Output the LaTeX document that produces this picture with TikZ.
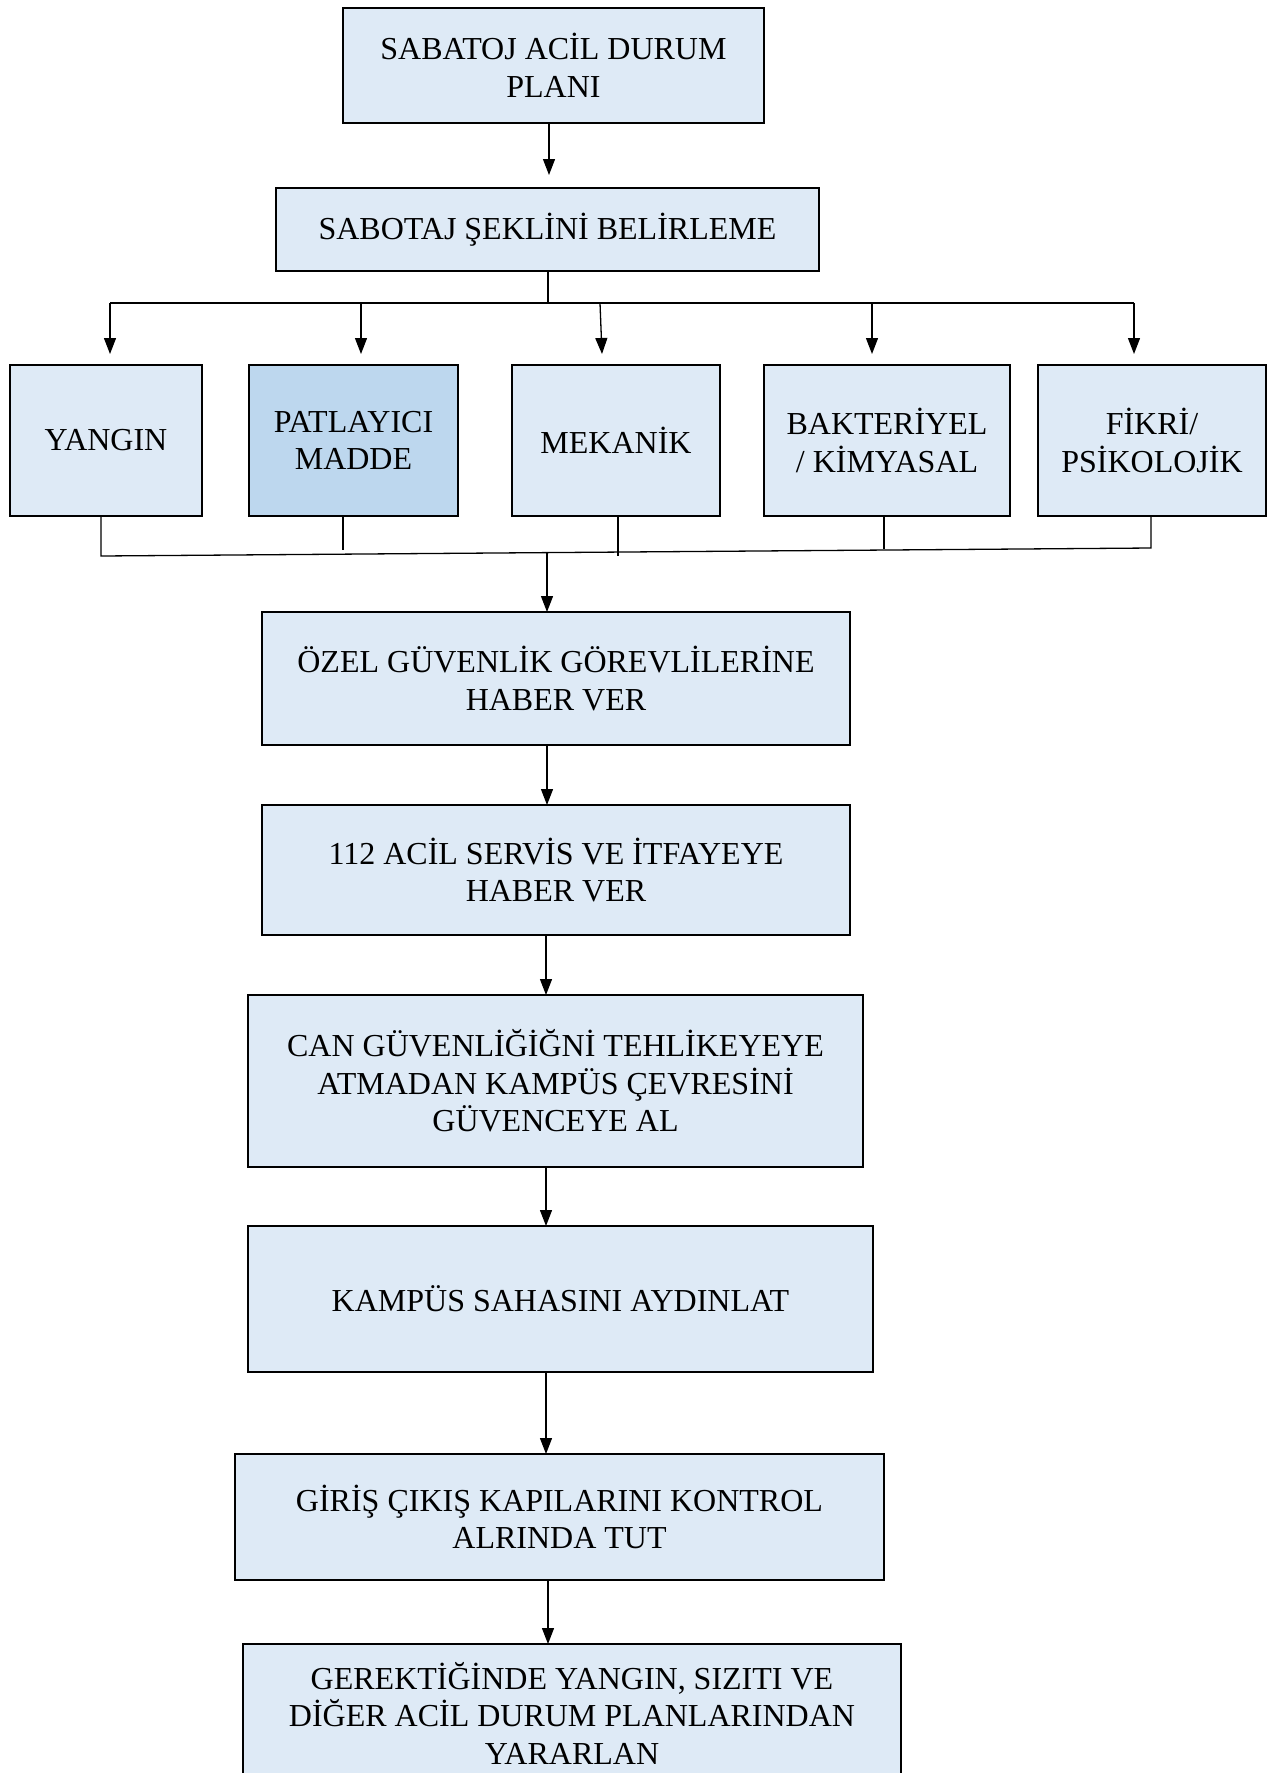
\documentclass[tikz,border=0pt]{standalone}
\usepackage{fontspec}
\setmainfont{Liberation Serif}
\usetikzlibrary{arrows.meta}
\definecolor{lightfill}{HTML}{DEEAF6}
\definecolor{darkfill}{HTML}{BDD7EE}
\tikzset{
  box/.style={draw=black, line width=2pt, fill=lightfill, inner sep=0pt, outer sep=0pt,
    align=center, font=\fontsize{32}{37.5}\selectfont},
  conn/.style={line width=1.3pt, draw=black},
  arr/.style={conn, -{Triangle[length=16pt,width=12pt]}},
}
\newcommand{\bx}[7]{% name, x1, y1, x2, y2, style, text
  \node[box, #6, minimum width={#4-#2}, minimum height={#5-#3}] (#1) at ({(#2+#4)/2},{-(#3+#5)/2}) {#7};}
\begin{document}
\begin{tikzpicture}[x=1pt,y=1pt]
\useasboundingbox (0,0) rectangle (1272,-1773);
\fill[white] (0,0) rectangle (1272,-1773);
% boxes
\bx{b1}{343}{8}{764}{123}{}{SABATOJ ACİL DURUM\\PLANI}
\bx{b2}{276}{188}{819}{271}{}{SABOTAJ ŞEKLİNİ BELİRLEME}
\bx{yan}{10}{365}{202}{516}{}{YANGIN}
\bx{pat}{249}{365}{458}{516}{fill=darkfill}{PATLAYICI\\MADDE}
\bx{mek}{512}{365}{720}{516}{}{MEKANİK}
\bx{bak}{764}{365}{1010}{516}{}{BAKTERİYEL\\/ KİMYASAL}
\bx{fik}{1038}{365}{1266}{516}{}{FİKRİ/\\PSİKOLOJİK}
\bx{oz}{262}{612}{850}{745}{}{ÖZEL GÜVENLİK GÖREVLİLERİNE\\HABER VER}
\bx{acil}{262}{805}{850}{935}{}{112 ACİL SERVİS VE İTFAYEYE\\HABER VER}
\bx{can}{248}{995}{863}{1167}{}{CAN GÜVENLİĞİĞNİ TEHLİKEYEYE\\ATMADAN KAMPÜS ÇEVRESİNİ\\GÜVENCEYE AL}
\bx{kam}{248}{1226}{873}{1372}{}{KAMPÜS SAHASINI AYDINLAT}
\bx{gir}{235}{1454}{884}{1580}{}{GİRİŞ ÇIKIŞ KAPILARINI KONTROL\\ALRINDA TUT}
\bx{ger}{243}{1644}{901}{1782}{}{GEREKTİĞİNDE YANGIN, SIZITI VE\\DİĞER ACİL DURUM PLANLARINDAN\\YARARLAN}
% coordinates
\coordinate (t1) at (549,-175);
\coordinate (bj) at (548,-303);
\coordinate (bl) at (110,-303);
\coordinate (br) at (1134,-303);
\coordinate (a1) at (110,-354);
\coordinate (a2) at (361,-354);
\coordinate (a3) at (602,-354);
\coordinate (s3) at (600,-303);
\coordinate (a4) at (872,-354);
\coordinate (a5) at (1134,-354);
\coordinate (jl) at (101,-556);
\coordinate (jr) at (1151,-548);
\coordinate (jp) at (343,-550);
\coordinate (jm) at (618,-556);
\coordinate (jb) at (884,-549);
\coordinate (jc) at (547,-553);
% connectors
\draw[arr] (b1.south -| t1) -- (t1);
\draw[conn] (b2.south -| bj) -- (bj);
\draw[conn] (bl) -- (br);
\draw[arr] (bl) -- (a1);
\draw[arr] (a2 |- bj) -- (a2);
\draw[arr] (s3) -- (a3);
\draw[arr] (a4 |- bj) -- (a4);
\draw[arr] (br) -- (a5);
\draw[conn] (yan.south -| jl) -- (jl) -- (jr) -- (fik.south -| jr);
\draw[conn] (pat.south -| jp) -- (jp);
\draw[conn] (mek.south -| jm) -- (jm);
\draw[conn] (bak.south -| jb) -- (jb);
\draw[arr] (jc) -- (oz.north -| jc);
\draw[arr] (oz.south -| jc) -- (acil.north -| jc);
\draw[arr] (acil.south -| 546,0) -- (can.north -| 546,0);
\draw[arr] (can.south -| 546,0) -- (kam.north -| 546,0);
\draw[arr] (kam.south -| 546,0) -- (gir.north -| 546,0);
\draw[arr] (gir.south -| 548,0) -- (ger.north -| 548,0);
\end{tikzpicture}
\end{document}
